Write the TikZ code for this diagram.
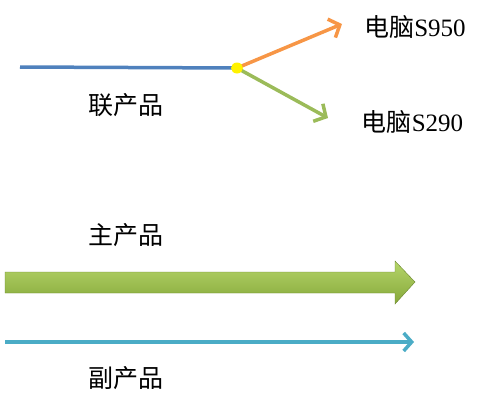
\documentclass[tikz,border=0pt]{standalone}
\usepackage{fontspec}
\setmainfont{Liberation Serif}
\newfontfamily\cjk{Noto Sans CJK SC}
\usepackage{tikz}
\usetikzlibrary{arrows.meta}
\definecolor{lineblue}{HTML}{4F81BD}
\definecolor{lineorange}{HTML}{F79646}
\definecolor{linegreen}{HTML}{9BBB59}
\definecolor{linecyan}{HTML}{4BACC6}
\definecolor{bartop}{HTML}{B5D56A}
\definecolor{barbot}{HTML}{86A83A}
\newcommand{\prodlabel}[3]{\node[lbl] (#1) at (#2) {#3};}

\begin{document}
\begin{tikzpicture}[x=1pt, y=-1pt,
    lbl/.style={font=\fontsize{25}{25}\selectfont, inner sep=0pt},
    branch/.style={line width=3.5pt, -{Straight Barb[length=9pt,width=20pt,line width=3.5pt]}}]
        \useasboundingbox (0,0) rectangle (500,407);
        % joint products
        \coordinate (src) at (20,67);
        \coordinate (j) at (237,68);
        \coordinate (hi) at (342,24);
        \coordinate (lo) at (328,118);
        \draw[lineblue, line width=3.5pt] (src) -- (j);
        \draw[branch, lineorange] (j) -- (hi);
        \draw[branch, linegreen] (j) -- (lo);
        \fill[yellow] (j) ellipse (6 and 5.5);
        \prodlabel{joint}{125.5,105}{\cjk 联产品}
        \prodlabel{pc1}{415,27}{{\cjk 电脑}S950}
        \prodlabel{pc2}{412.5,122}{{\cjk 电脑}S290}
        % main product
        \prodlabel{main}{125.5,235}{\cjk 主产品}
        \shade[top color=bartop, bottom color=barbot, draw=barbot!80!black, line width=0.4pt]
            (5,272) -- (395,272) -- (395,261) -- (415,282) -- (395,304) -- (395,293) -- (5,293) -- cycle;
        % by-product
        \coordinate (bstart) at (5,342);
        \coordinate (bend) at (414,342);
        \draw[linecyan, line width=3.5pt, -{Straight Barb[length=8pt,width=18pt,line width=3.5pt]}] (bstart) -- (bend);
        \prodlabel{by}{125.5,378}{\cjk 副产品}
    \end{tikzpicture}
\end{document}
